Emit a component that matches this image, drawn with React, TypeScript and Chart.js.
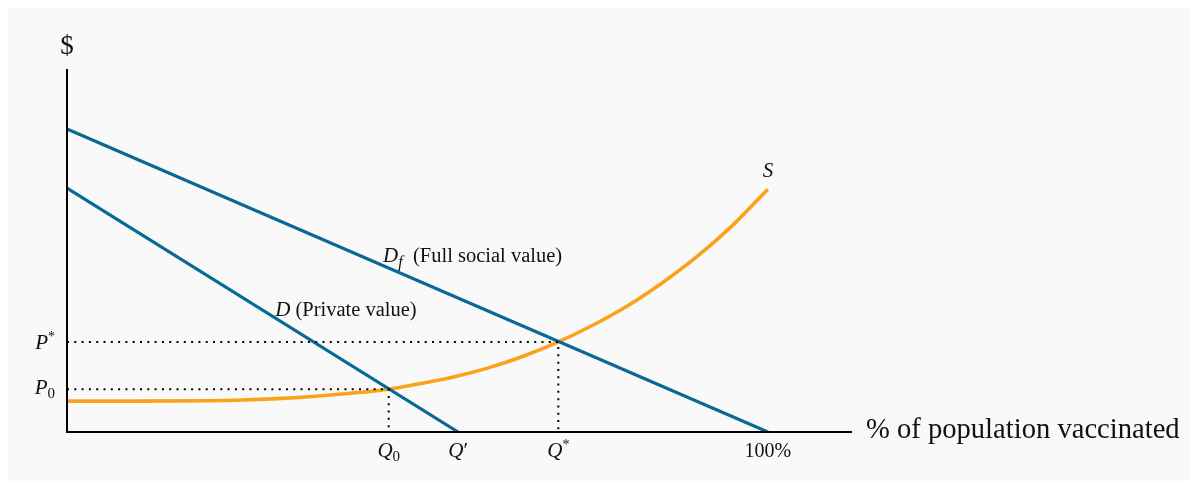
import React, { useEffect, useRef } from "react";
import { Chart, registerables } from "chart.js";

Chart.register(...registerables);

// ---- data (x: % of population vaccinated, y: $ in arbitrary units) ----
const supplyX = [0, 10, 20, 25, 30, 35, 40, 45.9, 50, 55, 60, 65, 70.1, 75, 80, 85, 90, 95, 100];
const supplyY = [8.5, 8.5, 8.6, 8.8, 9.2, 9.8, 10.6, 11.8, 13.2, 15.1, 17.6, 20.8, 24.8, 29.4, 34.8, 41.2, 48.5, 57.0, 66.9];
const privateDemandX = [0, 55.8];
const privateDemandY = [67.2, 0];
const socialDemandX = [0, 100];
const socialDemandY = [83.5, 0];
const P0 = 11.8;
const Q0 = 45.9;
const Pstar = 24.8;
const Qstar = 70.1;
const Qprime = 55.8;
const xMax = 112;
const yMax = 100;

const BLUE = "#0a6896";
const ORANGE = "#f9a21c";
const SERIF = '"Liberation Serif", "Times New Roman", serif';

type Part = { t: string; it?: boolean; sz: number; dy?: number };

function drawRich(ctx: CanvasRenderingContext2D, parts: Part[], x: number, y: number, align: "left" | "center" | "right") {
  ctx.save();
  ctx.textBaseline = "alphabetic";
  ctx.textAlign = "left";
  let total = 0;
  const widths: number[] = [];
  for (const p of parts) {
    ctx.font = `${p.it ? "italic " : ""}${p.sz}px ${SERIF}`;
    const w = ctx.measureText(p.t).width;
    widths.push(w);
    total += w;
  }
  let cx = align === "left" ? x : align === "center" ? x - total / 2 : x - total;
  parts.forEach((p, i) => {
    ctx.font = `${p.it ? "italic " : ""}${p.sz}px ${SERIF}`;
    ctx.fillStyle = "#111";
    ctx.fillText(p.t, cx, y + (p.dy || 0));
    cx += widths[i];
  });
  ctx.restore();
}

const annotationPlugin = {
  id: "econAnnotations",
  afterDraw(chart: any) {
    const ctx: CanvasRenderingContext2D = chart.ctx;
    const xs = chart.scales.x;
    const ys = chart.scales.y;
    const px = (v: number) => xs.getPixelForValue(v);
    const py = (v: number) => ys.getPixelForValue(v);
    const x0 = px(0);
    const y0 = py(0);

    // axes
    ctx.save();
    ctx.strokeStyle = "#000";
    ctx.lineWidth = 2;
    ctx.beginPath();
    ctx.moveTo(x0, py(yMax));
    ctx.lineTo(x0, y0);
    ctx.lineTo(px(xMax), y0);
    ctx.stroke();
    ctx.restore();

    // axis titles
    drawRich(ctx, [{ t: "$", sz: 27 }], x0, py(yMax) - 15, "center");
    drawRich(ctx, [{ t: "% of population vaccinated", sz: 28.6 }], px(xMax) + 14, y0 + 6, "left");

    // y tick labels
    drawRich(ctx, [{ t: "P", it: true, sz: 21 }, { t: "*", sz: 14, dy: -8 }], x0 - 12, py(Pstar) + 7, "right");
    drawRich(ctx, [{ t: "P", it: true, sz: 21 }, { t: "0", sz: 15, dy: 4 }], x0 - 12, py(P0) + 5, "right");

    // x tick labels
    const tb = y0 + 25;
    drawRich(ctx, [{ t: "Q", it: true, sz: 21 }, { t: "0", sz: 15, dy: 4 }], px(Q0), tb, "center");
    drawRich(ctx, [{ t: "Q", it: true, sz: 21 }, { t: "\u2032", sz: 21 }], px(Qprime), tb, "center");
    drawRich(ctx, [{ t: "Q", it: true, sz: 21 }, { t: "*", sz: 14, dy: -8 }], px(Qstar), tb, "center");
    drawRich(ctx, [{ t: "100%", sz: 20 }], px(100), tb, "center");

    // curve labels
    drawRich(ctx, [{ t: "S", it: true, sz: 21 }], px(100), py(supplyY[supplyY.length - 1]) - 12, "center");
    drawRich(
      ctx,
      [{ t: "D", it: true, sz: 21 }, { t: "f", it: true, sz: 16, dy: 5 }, { t: "  (Full social value)", sz: 20.5 }],
      px(45.1),
      py(45.6) - 4,
      "left"
    );
    drawRich(ctx, [{ t: "D", it: true, sz: 21 }, { t: " (Private value)", sz: 20.5 }], px(29.7), py(31.4) - 2, "left");
  },
};

export default function App() {
  const ref = useRef<HTMLCanvasElement | null>(null);
  useEffect(() => {
    if (!ref.current) return;
    const pts = (xs: number[], ys: number[]) => xs.map((x, i) => ({ x, y: ys[i] }));
    const dotted = {
      borderColor: "#000",
      borderWidth: 2,
      borderDash: [2, 5.3],
      pointRadius: 0,
      fill: false,
    };
    const chart = new Chart(ref.current, {
      type: "line",
      data: {
        datasets: [
          { label: "P0 guide", data: [{ x: 0, y: P0 }, { x: Q0, y: P0 }, { x: Q0, y: 0 }], ...dotted },
          { label: "P* guide", data: [{ x: 0, y: Pstar }, { x: Qstar, y: Pstar }, { x: Qstar, y: 0 }], ...dotted },
          {
            label: "D",
            data: pts(privateDemandX, privateDemandY),
            borderColor: BLUE,
            borderWidth: 3.2,
            pointRadius: 0,
          },
          {
            label: "Df",
            data: pts(socialDemandX, socialDemandY),
            borderColor: BLUE,
            borderWidth: 3.2,
            pointRadius: 0,
          },
          {
            label: "S",
            data: pts(supplyX, supplyY),
            borderColor: ORANGE,
            borderWidth: 3.6,
            pointRadius: 0,
            cubicInterpolationMode: "monotone",
          },
        ],
      },
      options: {
        animation: false,
        responsive: false,
        parsing: false as any,
        layout: { padding: { left: 59, top: 61, right: 338, bottom: 49 } },
        plugins: { legend: { display: false }, tooltip: { enabled: false } },
        scales: {
          x: { type: "linear", min: 0, max: xMax, display: false },
          y: { type: "linear", min: 0, max: yMax, display: false },
        },
      },
      plugins: [annotationPlugin],
    });
    return () => chart.destroy();
  }, []);
  return (
    <div style={{ background: "#f9f9f9", width: 1182, height: 473 }}>
      <canvas ref={ref} width={1182} height={473} style={{ display: "block" }} />
    </div>
  );
}
